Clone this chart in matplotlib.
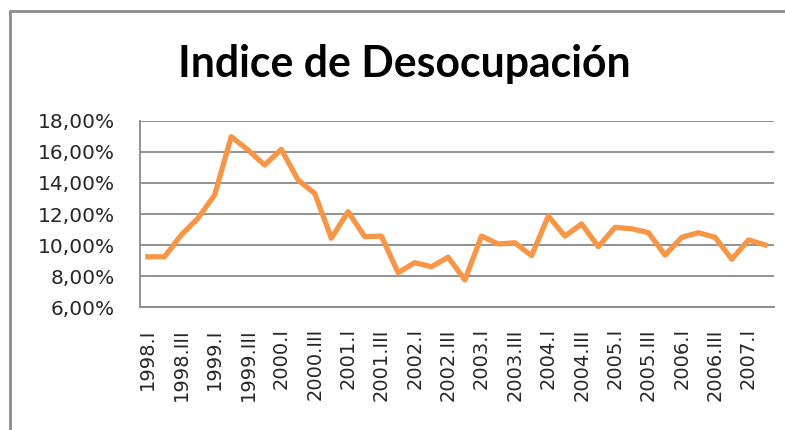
import matplotlib
matplotlib.use('Agg')
import matplotlib.pyplot as plt
from matplotlib.patches import Rectangle
from matplotlib.ticker import FuncFormatter

# trimestres 1998.I - 2007.II
quarters = ['1998.I', '1998.II', '1998.III', '1998.IV',
            '1999.I', '1999.II', '1999.III', '1999.IV',
            '2000.I', '2000.II', '2000.III', '2000.IV',
            '2001.I', '2001.II', '2001.III', '2001.IV',
            '2002.I', '2002.II', '2002.III', '2002.IV',
            '2003.I', '2003.II', '2003.III', '2003.IV',
            '2004.I', '2004.II', '2004.III', '2004.IV',
            '2005.I', '2005.II', '2005.III', '2005.IV',
            '2006.I', '2006.II', '2006.III', '2006.IV',
            '2007.I', '2007.II']
desocupacion = [9.25, 9.25, 10.65, 11.72, 13.22, 16.97, 16.12, 15.15,
                16.16, 14.19, 13.33, 10.44, 12.15, 10.54, 10.58, 8.23,
                8.87, 8.61, 9.22, 7.76, 10.58, 10.07, 10.15, 9.32,
                11.87, 10.58, 11.36, 9.90, 11.14, 11.05, 10.80, 9.36,
                10.50, 10.80, 10.50, 9.09, 10.33, 10.01]
yticks = [6, 8, 10, 12, 14, 16, 18]

fig = plt.figure(figsize=(7.85, 4.30), dpi=100)
ax = fig.add_axes([139.5/785, 1-307.3/430, (773.5-139.5)/785, (307.3-120.7)/430])

x = list(range(len(quarters)))
ax.plot(x, desocupacion, color='#F79646', lw=3.8, solid_joinstyle='round')

ax.set_xlim(-0.5, len(quarters) - 0.5)
ax.set_ylim(6, 18)
ax.set_yticks(yticks)
ax.yaxis.set_major_formatter(FuncFormatter(lambda v, p: ('%.2f%%' % v).replace('.', ',')))
ax.set_xticks(x[::2])
ax.set_xticklabels(quarters[::2], rotation=90, ha='center', va='top')

ax.grid(axis='y', color='#8a8a8a', lw=1.3)
ax.set_axisbelow(True)
for s in ['top', 'right']:
    ax.spines[s].set_visible(False)
for s in ['left', 'bottom']:
    ax.spines[s].set_color('#8a8a8a')
    ax.spines[s].set_linewidth(1.3)
ax.tick_params(axis='y', length=0, pad=18, labelsize=14.5, labelcolor='#262626')
ax.tick_params(axis='x', length=0, pad=15, labelsize=14, labelcolor='#262626')

fig.text(404/785, 1-76.7/430, 'Indice de Desocupación', ha='center', va='baseline',
         fontsize=30.8, fontweight='bold', family='Lato')

# marco del grafico
fig.patches.append(Rectangle((10/785, -0.1), 1.2, 1.1 - 11/430, transform=fig.transFigure,
                             fill=False, edgecolor='#8c8c8c', lw=2))

fig.savefig('out.png', dpi=100)
